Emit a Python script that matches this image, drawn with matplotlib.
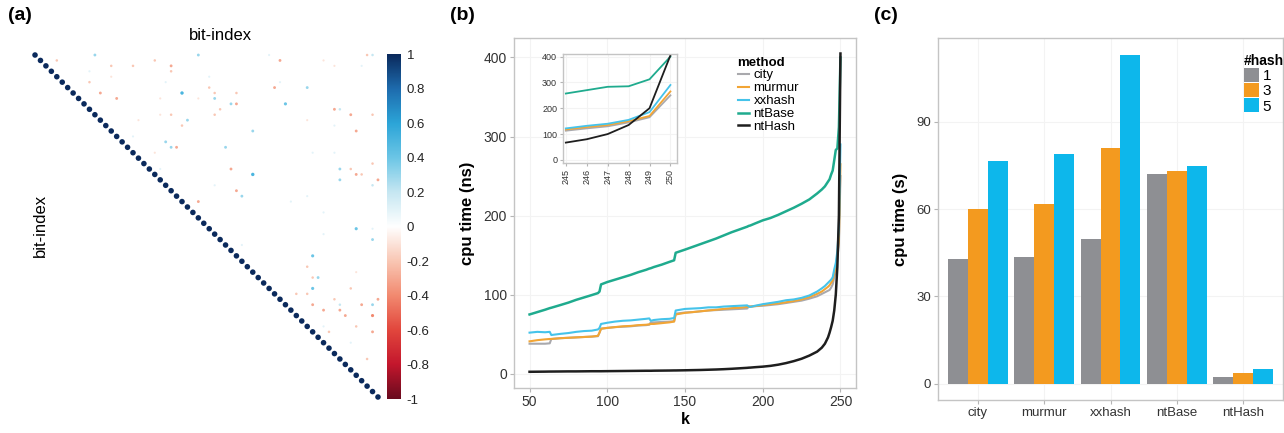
import numpy as np
import matplotlib
matplotlib.use('Agg')
from matplotlib import pyplot as plt
from matplotlib.colors import LinearSegmentedColormap

plt.rcParams['font.family'] = ['Liberation Sans', 'DejaVu Sans']

# (a) bit correlation matrix, upper triangle, 64 bits; off-diagonal entries
N_BITS = 64
corr_row = [0, 0, 0, 0, 0, 1, 1, 1, 1, 2, 2, 2, 2, 2, 3, 3, 4, 4, 5, 5, 5, 6, 6, 6,
            7, 7, 7, 7, 8, 8, 8, 8, 9, 9, 9, 10, 10, 10, 11, 11, 11, 11, 11, 12, 12,
            12, 13, 13, 14, 14, 15, 16, 17, 17, 17, 18, 18, 18, 20, 21, 21, 21, 21,
            22, 22, 22, 23, 23, 24, 24, 25, 26, 26, 27, 27, 29, 32, 32, 33, 34, 35,
            37, 39, 40, 41, 41, 43, 43, 44, 44, 45, 45, 46, 46, 46, 46, 47, 47, 48,
            48, 50, 50, 51, 51, 53, 56]
corr_col = [11, 30, 43, 61, 62, 4, 22, 45, 53, 14, 18, 25, 55, 60, 10, 25, 14, 32, 10,
            24, 45, 32, 44, 50, 12, 27, 33, 37, 15, 23, 30, 33, 36, 37, 46, 34, 55, 56,
            23, 25, 33, 58, 62, 19, 28, 50, 27, 55, 40, 59, 18, 24, 25, 26, 35, 22, 51,
            55, 62, 23, 36, 56, 58, 40, 59, 60, 56, 63, 33, 62, 37, 38, 50, 30, 47, 53,
            59, 62, 53, 62, 38, 51, 50, 59, 51, 52, 51, 58, 48, 50, 55, 63, 51, 56, 60,
            62, 53, 56, 57, 62, 53, 59, 54, 62, 58, 61]
corr_r = [0.3, 0.3, 0.1, -0.2, 0.2, -0.2, -0.2, -0.3, -0.1, -0.2, -0.2, -0.3, -0.1,
          0.1, 0.1, -0.2, -0.1, 0.1, -0.2, 0.1, 0.1, -0.2, -0.3, 0.3, -0.3, 0.5, -0.2,
          -0.2, -0.3, -0.1, -0.1, 0.3, 0.3, -0.3, 0.4, -0.2, -0.3, 0.2, -0.1, -0.2,
          -0.2, -0.3, -0.2, -0.1, 0.3, -0.1, -0.2, 0.1, 0.3, -0.3, 0.1, 0.3, 0.3, -0.3,
          0.3, -0.1, 0.1, 0.1, -0.2, 0.1, -0.3, 0.3, -0.2, 0.5, -0.3, -0.2, 0.3, -0.3,
          0.1, 0.2, -0.3, 0.3, 0.1, -0.3, 0.1, 0.1, 0.4, 0.1, 0.1, 0.3, 0.1, 0.4, -0.2,
          -0.1, -0.2, 0.3, 0.4, -0.2, -0.2, -0.2, -0.2, -0.3, -0.3, 0.2, -0.3, 0.3,
          -0.3, -0.3, -0.3, -0.4, 0.1, -0.2, -0.2, -0.3, 0.1, -0.2]

# (b) cpu time (ns) per k
k_vals = [50, 55, 60, 63, 64, 70, 75, 80, 85, 90, 94, 95, 96, 100, 105, 110, 115, 120,
          125, 127, 128, 130, 135, 140, 143, 144, 150, 155, 160, 165, 170, 175, 180,
          185, 190, 191, 192, 195, 200, 205, 210, 215, 220, 225, 230, 235, 238, 240,
          242, 243, 244, 245, 246, 247, 248, 249, 250]
city = [38, 38, 38, 38.5, 44, 45, 45.5, 46, 46.5, 47, 47.5, 52, 57, 58, 59, 59.5, 60, 61,
        61.5, 62, 65, 65, 65.5, 66, 66.5, 76, 77.5, 78, 79, 80, 80.5, 81, 81.5, 82, 82.5,
        85, 85, 85.5, 86, 87, 88, 89.5, 91, 92.5, 95, 98, 101, 103, 105, 106, 109, 113,
        122, 130, 145, 165, 250]
murmur = [41, 42.5, 43.5, 44, 44, 45, 45.5, 46, 46.5, 47, 48, 52, 57, 58, 59, 60, 60.5,
          61.5, 62, 62.5, 63, 63, 64, 65, 66, 75, 77, 78, 79, 80, 81, 82, 83, 83.5, 84.5,
          85, 85, 85.5, 87, 88, 89, 90.5, 92, 94, 97, 101, 104, 107, 110, 112, 115, 118,
          127, 135, 150, 170, 265]
xxhash = [52, 53, 52.5, 53, 49, 50.5, 51.5, 53, 54, 54.5, 56, 58, 63, 64.5, 66, 67, 67.5,
          68.5, 69.5, 70, 67, 68, 69, 69.5, 70.5, 80, 82, 82.5, 83, 84, 84, 85, 85.5, 86,
          86.5, 85, 84.5, 86, 88, 89.5, 91, 93, 94, 96, 99, 104, 108, 111, 115, 117, 119,
          122, 132, 140, 155, 185, 290]
ntBase = [75, 78, 81, 83, 83.5, 87, 90, 93.5, 96.5, 99.5, 102, 104, 113, 116, 119, 122,
          125, 128.5, 131.5, 133, 133.5, 135, 138, 141.5, 143.5, 153, 157, 160.5, 164,
          167.5, 171, 175, 179, 182.5, 186, 187, 187.5, 190, 194, 197, 201, 205.5, 210,
          215, 220.5, 228, 233, 237, 243, 246, 252, 257, 270, 283, 285, 312, 400]
ntHash = [2.5, 2.6, 2.7, 2.8, 2.8, 2.9, 3, 3, 3.1, 3.2, 3.2, 3.2, 3.2, 3.3, 3.4, 3.5, 3.6,
          3.7, 3.8, 3.8, 3.8, 3.9, 4, 4.1, 4.2, 4.2, 4.4, 4.6, 4.8, 5.1, 5.4, 5.8, 6.3,
          6.9, 7.5, 7.7, 7.8, 8.3, 9, 10, 11.5, 13.5, 16, 19, 23, 28, 33, 38, 46, 52, 59,
          67, 80, 100, 135, 200, 405]
methods = ['city', 'murmur', 'xxhash', 'ntBase', 'ntHash']
method_colors = ['#a9a9ad', '#f2a535', '#45c3ea', '#1fab8e', '#1e1e1e']

# (c) cpu time (s) by number of hashes
hash_methods = ['city', 'murmur', 'xxhash', 'ntBase', 'ntHash']
n_hash = ['1', '3', '5']
time_h1 = [42.8, 43.7, 49.6, 72.2, 2.2]
time_h3 = [59.9, 61.7, 81.2, 73.0, 3.5]
time_h5 = [76.7, 79.0, 113.2, 75.0, 4.9]
hash_colors = ['#8e8f93', '#f39a1f', '#0db7eb']

W, H = 1284, 433
fig = plt.figure(figsize=(W / 100, H / 100), dpi=100)


def box(l, t, r, b):
    return [l / W, 1 - b / H, (r - l) / W, (b - t) / H]


def ggstyle(ax, size=9.5):
    for s in ax.spines.values():
        s.set_color('#c4c4c4')
        s.set_linewidth(1.0)
    ax.tick_params(direction='out', length=3, color='#b5b5b5', labelcolor='#333333',
                   labelsize=size, pad=2)
    ax.grid(True, color='#f3f3f3', lw=0.8)
    ax.set_axisbelow(True)


# ---------- (a) ----------
cmap = LinearSegmentedColormap.from_list('corr', [
    '#6a0b1f', '#c4172d', '#e2473d', '#f28a70', '#f9c7b4', '#ffffff',
    '#c6e7f2', '#6cc6e6', '#2ca5d8', '#1e6cae', '#0b2a5c'])

ax = fig.add_axes(box(32.3, 52.3, 380.7, 399.7))
diag = np.arange(N_BITS)
ax.scatter(diag, diag, s=16, c=np.ones(N_BITS), cmap=cmap, vmin=-1, vmax=1,
           edgecolors='none')
r = np.array(corr_r)
ax.scatter(corr_col, corr_row, s=9 * np.abs(r) + 1.5, c=r, cmap=cmap, vmin=-1, vmax=1,
           edgecolors='none')
ax.set_xlim(-0.5, N_BITS - 0.5)
ax.set_ylim(N_BITS - 0.5, -0.5)
ax.axis('off')

cax = fig.add_axes(box(387, 54.3, 401, 399.3))
grad = np.linspace(-1, 1, 256).reshape(-1, 1)
cax.imshow(grad, aspect='auto', cmap=cmap, origin='lower', extent=[0, 1, -1, 1])
cax.set_xticks([])
cax.yaxis.tick_right()
cb_ticks = [1, 0.8, 0.6, 0.4, 0.2, 0, -0.2, -0.4, -0.6, -0.8, -1]
cax.set_yticks(cb_ticks)
cax.set_yticklabels(['1', '0.8', '0.6', '0.4', '0.2', '0', '-0.2', '-0.4', '-0.6',
                     '-0.8', '-1'])
cax.tick_params(axis='y', length=0, labelsize=9.5, pad=4, labelcolor='#222222')
for s in cax.spines.values():
    s.set_visible(False)

fig.text(220 / W, 1 - 35 / H, 'bit-index', ha='center', va='center', fontsize=12)
fig.text(40 / W, 1 - 225 / H, 'bit-index', ha='center', va='center', fontsize=12,
         rotation=90)

# ---------- (b) ----------
ax = fig.add_axes(box(514, 37.7, 856, 388))
series = [city, murmur, xxhash, ntBase, ntHash]
handles = []
for name, vals, col in zip(methods, series, method_colors):
    lw = 1.8 if name in ('ntBase', 'ntHash') else 1.5
    h, = ax.plot(k_vals, vals, color=col, lw=lw, label=name)
    handles.append(h)
ax.set_xlim(40, 260)
ax.set_ylim(-18, 425)
ax.set_xticks([50, 100, 150, 200, 250])
ax.set_yticks([0, 100, 200, 300, 400])
ggstyle(ax, 10)
ax.set_xlabel('k', fontsize=11.5, fontweight='bold', labelpad=2)
ax.set_ylabel('cpu time (ns)', fontsize=12, fontweight='bold', labelpad=6)
leg = ax.legend(handles=handles, loc='upper left', bbox_to_anchor=(731 / W, 1 - 50 / H),
                bbox_transform=fig.transFigure, frameon=False, fontsize=9.5,
                handlelength=0.9, handletextpad=0.3, labelspacing=0.05,
                borderpad=0, title='method',
                title_fontproperties={'weight': 'bold', 'size': 9.5})
leg._legend_box.align = 'left'

ins = fig.add_axes(box(562.7, 54, 676.7, 163))
k_arr = np.array(k_vals)
sel = k_arr >= 245
for name, vals, col in zip(methods, series, method_colors):
    ins.plot(k_arr[sel], np.array(vals)[sel], color=col, lw=1.3)
ins.set_xlim(244.85, 250.3)
ins.set_ylim(-12, 410)
ins.set_xticks([245, 246, 247, 248, 249, 250])
ins.set_yticks([0, 100, 200, 300, 400])
ggstyle(ins, 6.5)
ins.tick_params(axis='x', labelrotation=90, length=2)
ins.tick_params(axis='y', length=2)

# ---------- (c) ----------
ax = fig.add_axes(box(938, 38, 1283, 400))
x = np.arange(1, len(hash_methods) + 1)
for off, vals, col, lab in zip([-0.3, 0, 0.3], [time_h1, time_h3, time_h5],
                               hash_colors, n_hash):
    ax.bar(x + off, vals, width=0.3, color=col, label=lab, zorder=2)
ax.set_xlim(0.4, 5.6)
ax.set_ylim(-5.66, 118.9)
ax.set_xticks(x)
ax.set_xticklabels(hash_methods)
ax.set_yticks([0, 30, 60, 90])
ggstyle(ax, 9.5)
ax.set_ylabel('cpu time (s)', fontsize=12, fontweight='bold', labelpad=6)
leg = ax.legend(loc='upper left', bbox_to_anchor=(1236 / W, 1 - 46 / H),
                bbox_transform=fig.transFigure, frameon=False, fontsize=11,
                handlelength=1.0, handleheight=1.05, handletextpad=0.25,
                labelspacing=0.0, borderpad=0, title='#hash',
                title_fontproperties={'weight': 'bold', 'size': 10})
leg._legend_box.align = 'left'

fig.text(8 / W, 1 - 16 / H, '(a)', fontsize=14, fontweight='bold', va='center')
fig.text(450 / W, 1 - 16 / H, '(b)', fontsize=14, fontweight='bold', va='center')
fig.text(874 / W, 1 - 16 / H, '(c)', fontsize=14, fontweight='bold', va='center')

fig.savefig('out.png', dpi=100)
